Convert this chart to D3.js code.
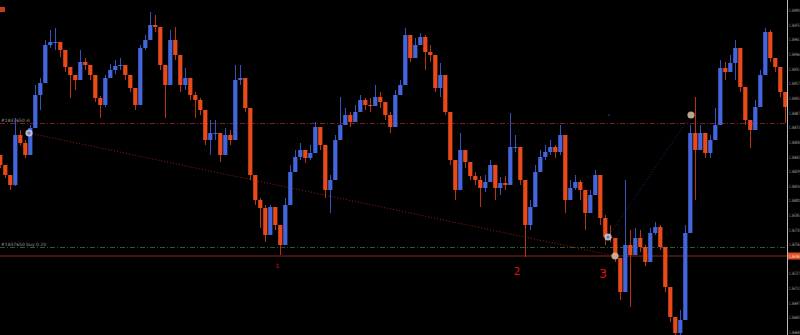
<!DOCTYPE html>
<html>
<head>
<meta charset="utf-8">
<script src="https://cdn.jsdelivr.net/npm/d3@7"></script>
<style>
  html, body { margin: 0; padding: 0; background: #000; }
  svg { display: block; }
</style>
</head>
<body>
<div id="chart"></div>
<script>
// price bars, one per 5px column (close / high / low)
const firstOpen = 1.26845;
const closes = [
  1.26835, 1.26825, 1.26815, 1.26865, 1.26857, 1.26845, 1.26872, 1.26905, 1.26917, 1.26955,
  1.26958, 1.26958, 1.26950, 1.26933, 1.26925, 1.26920, 1.26938, 1.26935, 1.26925, 1.26902,
  1.26895, 1.26922, 1.26930, 1.26934, 1.26935, 1.26925, 1.26912, 1.26895, 1.26952, 1.26960,
  1.26975, 1.26973, 1.26935, 1.26915, 1.26960, 1.26945, 1.26915, 1.26922, 1.26905, 1.26900,
  1.26890, 1.26860, 1.26867, 1.26867, 1.26845, 1.26865, 1.26860, 1.26920, 1.26922, 1.26892,
  1.26825, 1.26800, 1.26792, 1.26765, 1.26793, 1.26775, 1.26755, 1.26795, 1.26828, 1.26843,
  1.26850, 1.26842, 1.26847, 1.26873, 1.26855, 1.26810, 1.26820, 1.26860, 1.26875, 1.26885,
  1.26878, 1.26888, 1.26900, 1.26895, 1.26894, 1.26903, 1.26898, 1.26885, 1.26873, 1.26905,
  1.26915, 1.26965, 1.26942, 1.26955, 1.26963, 1.26948, 1.26945, 1.26912, 1.26925, 1.26888,
  1.26840, 1.26810, 1.26850, 1.26838, 1.26824, 1.26820, 1.26812, 1.26818, 1.26835, 1.26812,
  1.26817, 1.26815, 1.26853, 1.26853, 1.26820, 1.26775, 1.26793, 1.26828, 1.26843, 1.26848,
  1.26853, 1.26848, 1.26865, 1.26800, 1.26812, 1.26818, 1.26810, 1.26787, 1.26805, 1.26825,
  1.26782, 1.26763, 1.26762, 1.26742, 1.26708, 1.26755, 1.26745, 1.26762, 1.26753, 1.26738,
  1.26767, 1.26773, 1.26753, 1.26713, 1.26683, 1.26667, 1.26680, 1.26767, 1.26867, 1.26850,
  1.26867, 1.26847, 1.26860, 1.26875, 1.26932, 1.26928, 1.26937, 1.26952, 1.26913, 1.26880,
  1.26870, 1.26893, 1.26925, 1.26968, 1.26942, 1.26933, 1.26908, 1.26893
];
const highs = [
  1.26845, 1.26835, 1.26824, 1.26882, 1.26870, 1.26860, 1.26875, 1.26915, 1.26922, 1.26960,
  1.26970, 1.26972, 1.26958, 1.26945, 1.26932, 1.26925, 1.26950, 1.26942, 1.26935, 1.26923,
  1.26904, 1.26925, 1.26936, 1.26940, 1.26942, 1.26935, 1.26925, 1.26912, 1.26955, 1.26965,
  1.26988, 1.26985, 1.26973, 1.26930, 1.26970, 1.26973, 1.26945, 1.26932, 1.26922, 1.26908,
  1.26902, 1.26890, 1.26880, 1.26880, 1.26867, 1.26872, 1.26870, 1.26935, 1.26935, 1.26920,
  1.26892, 1.26825, 1.26802, 1.26795, 1.26795, 1.26793, 1.26775, 1.26802, 1.26835, 1.26850,
  1.26857, 1.26850, 1.26855, 1.26878, 1.26873, 1.26855, 1.26825, 1.26865, 1.26903, 1.26892,
  1.26888, 1.26895, 1.26905, 1.26902, 1.26902, 1.26915, 1.26908, 1.26898, 1.26888, 1.26910,
  1.26920, 1.26972, 1.26965, 1.26962, 1.26967, 1.26965, 1.26955, 1.26945, 1.26937, 1.26925,
  1.26888, 1.26840, 1.26867, 1.26850, 1.26838, 1.26828, 1.26824, 1.26825, 1.26840, 1.26835,
  1.26823, 1.26824, 1.26887, 1.26865, 1.26853, 1.26820, 1.26800, 1.26835, 1.26850, 1.26855,
  1.26860, 1.26855, 1.26875, 1.26860, 1.26820, 1.26825, 1.26820, 1.26810, 1.26810, 1.26830,
  1.26825, 1.26785, 1.26775, 1.26762, 1.26742, 1.26820, 1.26770, 1.26772, 1.26770, 1.26755,
  1.26772, 1.26778, 1.26775, 1.26753, 1.26713, 1.26683, 1.26690, 1.26775, 1.26875, 1.26903,
  1.26875, 1.26867, 1.26865, 1.26892, 1.26940, 1.26938, 1.26945, 1.26960, 1.26950, 1.26913,
  1.26880, 1.26900, 1.26930, 1.26972, 1.26970, 1.26942, 1.26933, 1.26900
];
const lows = [
  1.26832, 1.26822, 1.26810, 1.26814, 1.26855, 1.26842, 1.26845, 1.26872, 1.26890, 1.26917,
  1.26952, 1.26950, 1.26943, 1.26928, 1.26902, 1.26910, 1.26920, 1.26930, 1.26920, 1.26898,
  1.26882, 1.26893, 1.26922, 1.26926, 1.26930, 1.26920, 1.26908, 1.26890, 1.26895, 1.26950,
  1.26960, 1.26968, 1.26930, 1.26882, 1.26915, 1.26940, 1.26908, 1.26910, 1.26900, 1.26882,
  1.26885, 1.26855, 1.26845, 1.26860, 1.26838, 1.26845, 1.26855, 1.26860, 1.26915, 1.26888,
  1.26820, 1.26795, 1.26772, 1.26758, 1.26765, 1.26770, 1.26745, 1.26755, 1.26795, 1.26828,
  1.26840, 1.26837, 1.26840, 1.26847, 1.26850, 1.26802, 1.26787, 1.26820, 1.26860, 1.26875,
  1.26873, 1.26878, 1.26890, 1.26890, 1.26888, 1.26895, 1.26892, 1.26880, 1.26867, 1.26873,
  1.26905, 1.26915, 1.26938, 1.26942, 1.26955, 1.26930, 1.26938, 1.26908, 1.26903, 1.26885,
  1.26835, 1.26800, 1.26810, 1.26832, 1.26820, 1.26815, 1.26793, 1.26808, 1.26818, 1.26800,
  1.26805, 1.26810, 1.26815, 1.26848, 1.26815, 1.26743, 1.26770, 1.26793, 1.26828, 1.26840,
  1.26845, 1.26842, 1.26845, 1.26787, 1.26800, 1.26810, 1.26800, 1.26770, 1.26787, 1.26805,
  1.26775, 1.26755, 1.26758, 1.26738, 1.26700, 1.26708, 1.26693, 1.26745, 1.26748, 1.26734,
  1.26738, 1.26765, 1.26750, 1.26708, 1.26678, 1.26660, 1.26662, 1.26680, 1.26767, 1.26800,
  1.26850, 1.26842, 1.26842, 1.26865, 1.26875, 1.26920, 1.26928, 1.26920, 1.26908, 1.26875,
  1.26852, 1.26870, 1.26893, 1.26925, 1.26938, 1.26928, 1.26903, 1.26877
];

// right price scale labels
const tickPrices = [
  1.26990, 1.26975, 1.26961, 1.26946, 1.26931, 1.26917, 1.26902, 1.26887, 1.26873, 1.26858,
  1.26843, 1.26829, 1.26814, 1.26800, 1.26785, 1.26770, 1.26756, 1.26741, 1.26727, 1.26712,
  1.26697, 1.26683, 1.26668
];
const bidPrice = 1.26744;

// order lines
const slPrice = 1.26877;
const buyPrice = 1.26753;
const orderLabels = ["#1837650 sl", "#1837650 buy 0.20"];

// arrow markers (bar index, price)
const markerIdx = [5.8, 121.6, 123, 138.2];
const markerPrice = [1.26867, 1.26763, 1.26744, 1.26885];
const markerKind = ["open", "open", "close", "close"];

// hand-written wave labels (bar index, price)
const waveText = ["1", "2", "3"];
const waveIdx = [55.5, 103.4, 120.6];
const wavePrice = [1.26739, 1.26737, 1.26736];

const width = 800, height = 335;
const plotRight = 787;

const svg = d3.select("#chart").append("svg")
  .attr("width", width)
  .attr("height", height)
  .style("background", "#000");

const x = d3.scaleLinear().domain([0, closes.length - 1]).range([0, 785]);
const y = d3.scaleLinear().domain([1.26665, 1.27000]).range([height, 0]);

const bars = closes.map((c, i) => {
  const o = i === 0 ? firstOpen : closes[i - 1];
  return { i, o, c, h: Math.max(highs[i], o, c), l: Math.min(lows[i], o, c) };
});

// order lines
svg.append("line")
  .attr("x1", 0).attr("x2", plotRight)
  .attr("y1", Math.round(y(slPrice)) + 0.5).attr("y2", Math.round(y(slPrice)) + 0.5)
  .attr("stroke", "#7a2418").attr("stroke-dasharray", "5,2,1,2");
svg.append("line")
  .attr("x1", 0).attr("x2", plotRight)
  .attr("y1", Math.round(y(buyPrice)) + 0.5).attr("y2", Math.round(y(buyPrice)) + 0.5)
  .attr("stroke", "#2f5a26").attr("stroke-dasharray", "5,2,1,2");
svg.append("line")
  .attr("x1", 0).attr("x2", plotRight)
  .attr("y1", y(bidPrice)).attr("y2", y(bidPrice))
  .attr("stroke", "#5e1a10").attr("stroke-width", 1.6);

svg.selectAll(".olabel")
  .data([slPrice, buyPrice])
  .enter().append("text")
  .attr("class", "olabel")
  .attr("x", 1)
  .attr("y", d => y(d) - 1.5)
  .attr("fill", "#9a9a9a")
  .attr("font-family", "DejaVu Sans")
  .attr("font-size", 4.5)
  .text((d, i) => orderLabels[i]);

// trend lines between markers
svg.append("line")
  .attr("x1", x(markerIdx[0])).attr("y1", y(markerPrice[0]))
  .attr("x2", x(markerIdx[2])).attr("y2", y(markerPrice[2]))
  .attr("stroke", "#8c2212").attr("stroke-dasharray", "1,2");
svg.append("line")
  .attr("x1", x(markerIdx[1])).attr("y1", y(markerPrice[1]))
  .attr("x2", x(markerIdx[3])).attr("y2", y(markerPrice[3]))
  .attr("stroke", "#1c2878").attr("stroke-dasharray", "1,2");
svg.append("circle")
  .attr("cx", x(121.8)).attr("cy", y(markerPrice[3])).attr("r", 1)
  .attr("fill", "#1c2878");

// bars
const up = "#4466dd", down = "#e84a1a";
const g = svg.append("g");
g.selectAll(".wick")
  .data(bars)
  .enter().append("line")
  .attr("class", "wick")
  .attr("x1", d => x(d.i) + 0.5).attr("x2", d => x(d.i) + 0.5)
  .attr("y1", d => y(d.h)).attr("y2", d => y(d.l))
  .attr("stroke", d => d.c >= d.o ? "#3552b8" : "#b8330f")
  .attr("stroke-width", 1);
g.selectAll(".body")
  .data(bars)
  .enter().append("rect")
  .attr("class", "body")
  .attr("x", d => x(d.i) - 1.8)
  .attr("width", 4.2)
  .attr("y", d => y(Math.max(d.o, d.c)))
  .attr("height", d => Math.max(1, Math.abs(y(d.o) - y(d.c))))
  .attr("fill", d => d.c >= d.o ? up : down);

// markers
const mk = svg.selectAll(".mk")
  .data(markerIdx.map((m, i) => ({ m, p: markerPrice[i], k: markerKind[i] })))
  .enter().append("g")
  .attr("transform", d => `translate(${x(d.m)},${y(d.p)})`);
mk.append("circle").attr("r", 3.6)
  .attr("fill", d => d.k === "open" ? "#c9c9d6" : "#cbb89a")
  .attr("opacity", 0.9);
mk.filter(d => d.k === "open").append("circle").attr("r", 1.5).attr("fill", "#6a78c8");

// wave labels
svg.selectAll(".wave")
  .data(waveText)
  .enter().append("text")
  .attr("x", (d, i) => x(waveIdx[i]))
  .attr("y", (d, i) => y(wavePrice[i]) + [7, 12, 14][i])
  .attr("text-anchor", "middle")
  .attr("fill", "#e01010")
  .attr("font-family", "DejaVu Sans")
  .attr("font-size", (d, i) => [6, 10, 12][i])
  .text(d => d);

// top-left indicator tag
svg.append("rect").attr("x", 0).attr("y", 7).attr("width", 5).attr("height", 5).attr("fill", "#c23c1c");

// price axis (the tick under the bid box is hidden, as the terminal does)
const labelW = width - plotRight - 2.5;
svg.append("rect").attr("x", plotRight).attr("y", 0).attr("width", width - plotRight).attr("height", height).attr("fill", "#000");
svg.append("line")
  .attr("x1", plotRight + 0.5).attr("x2", plotRight + 0.5)
  .attr("y1", 0).attr("y2", height)
  .attr("stroke", "#bdbdbd");
svg.selectAll(".tick")
  .data(tickPrices.filter(d => Math.abs(y(d) - y(bidPrice)) > 6))
  .enter().append("text")
  .attr("x", plotRight + 2)
  .attr("y", d => y(d) + 1.6)
  .attr("fill", "#b8b8b8")
  .attr("font-family", "DejaVu Sans Condensed")
  .attr("font-size", 4.5)
  .attr("textLength", labelW)
  .attr("lengthAdjust", "spacingAndGlyphs")
  .text(d => d3.format(".5f")(d));
svg.append("rect")
  .attr("x", plotRight + 1).attr("y", y(bidPrice) - 3.5)
  .attr("width", width - plotRight).attr("height", 7)
  .attr("fill", "#e04a1c");
svg.append("text")
  .attr("x", plotRight + 2).attr("y", y(bidPrice) + 1.6)
  .attr("fill", "#fff")
  .attr("font-family", "DejaVu Sans Condensed")
  .attr("font-size", 4.5)
  .attr("textLength", labelW)
  .attr("lengthAdjust", "spacingAndGlyphs")
  .text(d3.format(".5f")(bidPrice));
</script>
</body>
</html>
